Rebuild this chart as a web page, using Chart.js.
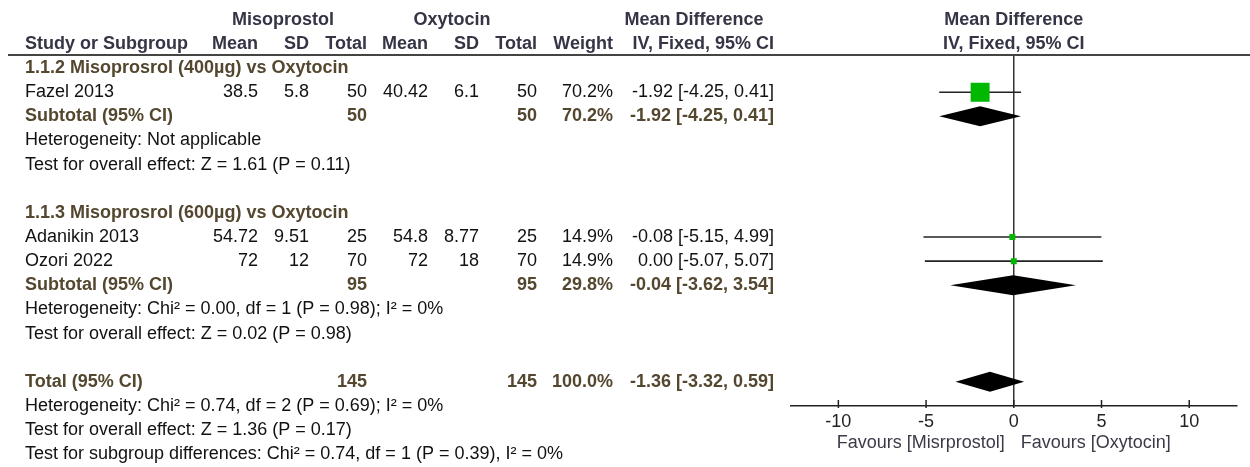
<!DOCTYPE html>
<html>
<head>
<meta charset="utf-8">
<title>Forest plot - Misoprostol vs Oxytocin</title>
<script src="https://cdn.jsdelivr.net/npm/chart.js@4"></script>
<style>
  body { margin: 0; background: #fff; }
  canvas { display: block; }
</style>
</head>
<body>
<canvas id="forest" width="1250" height="467"></canvas>
<script>
// studies
var studies = ['Fazel 2013', 'Adanikin 2013', 'Ozori 2022']
var misMean = [38.5, 54.72, 72]
var misSD = [5.8, 9.51, 12]
var misTotal = [50, 25, 70]
var oxyMean = [40.42, 54.8, 72]
var oxySD = [6.1, 8.77, 18]
var oxyTotal = [50, 25, 70]
var weight = [70.2, 14.9, 14.9]
var md = [-1.92, -0.08, 0.00]
var ciLow = [-4.25, -5.15, -5.07]
var ciHigh = [0.41, 4.99, 5.07]

// subgroups
var groupNames = ['1.1.2 Misoprosrol (400µg) vs Oxytocin', '1.1.3 Misoprosrol (600µg) vs Oxytocin']
var groupMisTotal = [50, 95]
var groupOxyTotal = [50, 95]
var groupWeight = [70.2, 29.8]
var groupMD = [-1.92, -0.04]
var groupLow = [-4.25, -3.62]
var groupHigh = [0.41, 3.54]
var groupHet = ['Heterogeneity: Not applicable', 'Heterogeneity: Chi² = 0.00, df = 1 (P = 0.98); I² = 0%']
var groupTest = ['Test for overall effect: Z = 1.61 (P = 0.11)', 'Test for overall effect: Z = 0.02 (P = 0.98)']

// overall
var totalMis = 145
var totalOxy = 145
var totalWeight = 100.0
var totalMD = -1.36
var totalLow = -3.32
var totalHigh = 0.59
var totalNotes = ['Heterogeneity: Chi² = 0.74, df = 2 (P = 0.69); I² = 0%',
  'Test for overall effect: Z = 1.36 (P = 0.17)',
  'Test for subgroup differences: Chi² = 0.74, df = 1 (P = 0.39), I² = 0%']

var xTicks = [-10, -5, 0, 5, 10]
var favours = ['Favours [Misrprostol]', 'Favours [Oxytocin]']

// row layout on the hidden y scale (one unit = one text line)
var headRows = [-1.5, -0.5]
var groupRow = [0.5, 6.5]
var studyRow = [1.5, 7.5, 8.5]
var subtotalRow = [2.5, 9.5]
var hetRow = [3.5, 10.5]
var testRow = [4.5, 11.5]
var totalRow = 13.5
var totalNoteRows = [14.5, 15.5, 16.5]

var FONT = '"Liberation Sans", Arial, sans-serif'
var HEAD = '#353545'
var BROWN = '#54472f'
var INK = '#111'

function fmtCI(m, l, h) {
  return m.toFixed(2) + ' [' + l.toFixed(2) + ', ' + h.toFixed(2) + ']'
}

function txt(c, s, x, y, align, bold, color) {
  c.font = (bold ? 'bold ' : '') + '18px ' + FONT
  c.textAlign = align
  c.textBaseline = 'middle'
  c.fillStyle = color
  c.fillText(s, x, y)
}

function diamond(c, xs, py, m, l, h) {
  var half = 10
  c.beginPath()
  c.moveTo(xs.getPixelForValue(l), py)
  c.lineTo(xs.getPixelForValue(m), py - half)
  c.lineTo(xs.getPixelForValue(h), py)
  c.lineTo(xs.getPixelForValue(m), py + half)
  c.closePath()
  c.fill()
}

// table columns (right edges)
var col = {misMean: 258, misSD: 309, misN: 367, oxyMean: 428, oxySD: 479, oxyN: 537, w: 613, ci: 774}

var forestPlugin = {
  id: 'forest',
  beforeDatasetsDraw: function(chart) {
    var c = chart.ctx, xs = chart.scales.x, ys = chart.scales.y
    c.save()
    c.strokeStyle = '#222'
    c.lineWidth = 1.6
    for (var i = 0; i < studies.length; i++) {
      var py = ys.getPixelForValue(studyRow[i])
      c.beginPath()
      c.moveTo(xs.getPixelForValue(ciLow[i]), py)
      c.lineTo(xs.getPixelForValue(ciHigh[i]), py)
      c.stroke()
    }
    c.restore()
  },
  afterDatasetsDraw: function(chart) {
    var c = chart.ctx, xs = chart.scales.x, ys = chart.scales.y
    c.save()
    c.fillStyle = '#000'
    for (var g = 0; g < groupNames.length; g++) {
      diamond(c, xs, ys.getPixelForValue(subtotalRow[g]), groupMD[g], groupLow[g], groupHigh[g])
    }
    diamond(c, xs, ys.getPixelForValue(totalRow), totalMD, totalLow, totalHigh)
    c.restore()
  },
  afterDraw: function(chart) {
    var c = chart.ctx, xs = chart.scales.x, ys = chart.scales.y
    var area = chart.chartArea
    var zero = xs.getPixelForValue(0)
    c.save()

    // header rule
    c.strokeStyle = '#444'
    c.lineWidth = 2
    c.beginPath()
    c.moveTo(8, area.top - 1)
    c.lineTo(1250, area.top - 1)
    c.stroke()

    // upward tick marks
    c.strokeStyle = '#222'
    c.lineWidth = 1.5
    xTicks.forEach(function(v) {
      var px = xs.getPixelForValue(v)
      c.beginPath()
      c.moveTo(px, area.bottom - 6)
      c.lineTo(px, area.bottom + 2)
      c.stroke()
    })

    // headers
    var h1 = ys.getPixelForValue(headRows[0]), h2 = ys.getPixelForValue(headRows[1])
    txt(c, 'Misoprostol', 283, h1, 'center', true, HEAD)
    txt(c, 'Oxytocin', 452, h1, 'center', true, HEAD)
    txt(c, 'Mean Difference', 694, h1, 'center', true, HEAD)
    txt(c, 'Mean Difference', zero, h1, 'center', true, HEAD)
    txt(c, 'Study or Subgroup', 25, h2, 'left', true, HEAD)
    txt(c, 'Mean', col.misMean, h2, 'right', true, HEAD)
    txt(c, 'SD', col.misSD, h2, 'right', true, HEAD)
    txt(c, 'Total', col.misN, h2, 'right', true, HEAD)
    txt(c, 'Mean', col.oxyMean, h2, 'right', true, HEAD)
    txt(c, 'SD', col.oxySD, h2, 'right', true, HEAD)
    txt(c, 'Total', col.oxyN, h2, 'right', true, HEAD)
    txt(c, 'Weight', col.w, h2, 'right', true, HEAD)
    txt(c, 'IV, Fixed, 95% CI', col.ci, h2, 'right', true, HEAD)
    txt(c, 'IV, Fixed, 95% CI', zero, h2, 'center', true, HEAD)

    // studies
    for (var i = 0; i < studies.length; i++) {
      var py = ys.getPixelForValue(studyRow[i])
      txt(c, studies[i], 25, py, 'left', false, INK)
      txt(c, String(misMean[i]), col.misMean, py, 'right', false, INK)
      txt(c, String(misSD[i]), col.misSD, py, 'right', false, INK)
      txt(c, String(misTotal[i]), col.misN, py, 'right', false, INK)
      txt(c, String(oxyMean[i]), col.oxyMean, py, 'right', false, INK)
      txt(c, String(oxySD[i]), col.oxySD, py, 'right', false, INK)
      txt(c, String(oxyTotal[i]), col.oxyN, py, 'right', false, INK)
      txt(c, weight[i].toFixed(1) + '%', col.w, py, 'right', false, INK)
      txt(c, fmtCI(md[i], ciLow[i], ciHigh[i]), col.ci, py, 'right', false, INK)
    }

    // subgroups
    for (var g = 0; g < groupNames.length; g++) {
      txt(c, groupNames[g], 25, ys.getPixelForValue(groupRow[g]), 'left', true, BROWN)
      var sy = ys.getPixelForValue(subtotalRow[g])
      txt(c, 'Subtotal (95% CI)', 25, sy, 'left', true, BROWN)
      txt(c, String(groupMisTotal[g]), col.misN, sy, 'right', true, BROWN)
      txt(c, String(groupOxyTotal[g]), col.oxyN, sy, 'right', true, BROWN)
      txt(c, groupWeight[g].toFixed(1) + '%', col.w, sy, 'right', true, BROWN)
      txt(c, fmtCI(groupMD[g], groupLow[g], groupHigh[g]), col.ci, sy, 'right', true, BROWN)
      txt(c, groupHet[g], 25, ys.getPixelForValue(hetRow[g]), 'left', false, INK)
      txt(c, groupTest[g], 25, ys.getPixelForValue(testRow[g]), 'left', false, INK)
    }

    // total
    var ty = ys.getPixelForValue(totalRow)
    txt(c, 'Total (95% CI)', 25, ty, 'left', true, BROWN)
    txt(c, String(totalMis), col.misN, ty, 'right', true, BROWN)
    txt(c, String(totalOxy), col.oxyN, ty, 'right', true, BROWN)
    txt(c, totalWeight.toFixed(1) + '%', col.w, ty, 'right', true, BROWN)
    txt(c, fmtCI(totalMD, totalLow, totalHigh), col.ci, ty, 'right', true, BROWN)
    for (var k = 0; k < totalNotes.length; k++) {
      txt(c, totalNotes[k], 25, ys.getPixelForValue(totalNoteRows[k]), 'left', false, INK)
    }

    // favours labels
    var fy = area.bottom + 37
    txt(c, favours[0], zero - 9, fy, 'right', false, '#3a3a48')
    txt(c, favours[1], zero + 7, fy, 'left', false, '#3a3a48')

    c.restore()
  }
}

const ctx = document.getElementById('forest')

new Chart(ctx, {
  type: 'scatter',
  data: {
    datasets: [{
      label: 'Mean difference',
      data: studies.map(function(s, i) { return {x: md[i], y: studyRow[i]} }),
      pointStyle: 'rect',
      pointRadius: function(c) { return 13.4 * Math.pow(weight[c.dataIndex] / 70.2, 0.75) },
      pointHoverRadius: function(c) { return 13.4 * Math.pow(weight[c.dataIndex] / 70.2, 0.75) },
      backgroundColor: '#00b800',
      borderWidth: 0
    }]
  },
  options: {
    responsive: false,
    animation: false,
    devicePixelRatio: 1,
    layout: {padding: {left: 791, right: 8, top: 56, bottom: 0}},
    plugins: {legend: {display: false}, tooltip: {enabled: false}},
    scales: {
      x: {
        type: 'linear',
        min: -12.7,
        max: 12.7,
        afterBuildTicks: function(s) { s.ticks = xTicks.map(function(v) { return {value: v} }) },
        afterFit: function(s) { s.height = 61 },
        grid: {
          drawTicks: false,
          lineWidth: 1.5,
          color: function(c) { return c.tick && c.tick.value === 0 ? '#333' : 'rgba(0,0,0,0)' }
        },
        border: {display: true, color: '#222', width: 1.5},
        ticks: {
          autoSkip: false,
          maxRotation: 0,
          padding: 5,
          color: '#222',
          font: {family: FONT, size: 18},
          callback: function(v) { return String(v) }
        }
      },
      y: {
        type: 'linear',
        min: 0,
        max: 14.5,
        reverse: true,
        display: false
      }
    }
  },
  plugins: [forestPlugin]
})
</script>
</body>
</html>
